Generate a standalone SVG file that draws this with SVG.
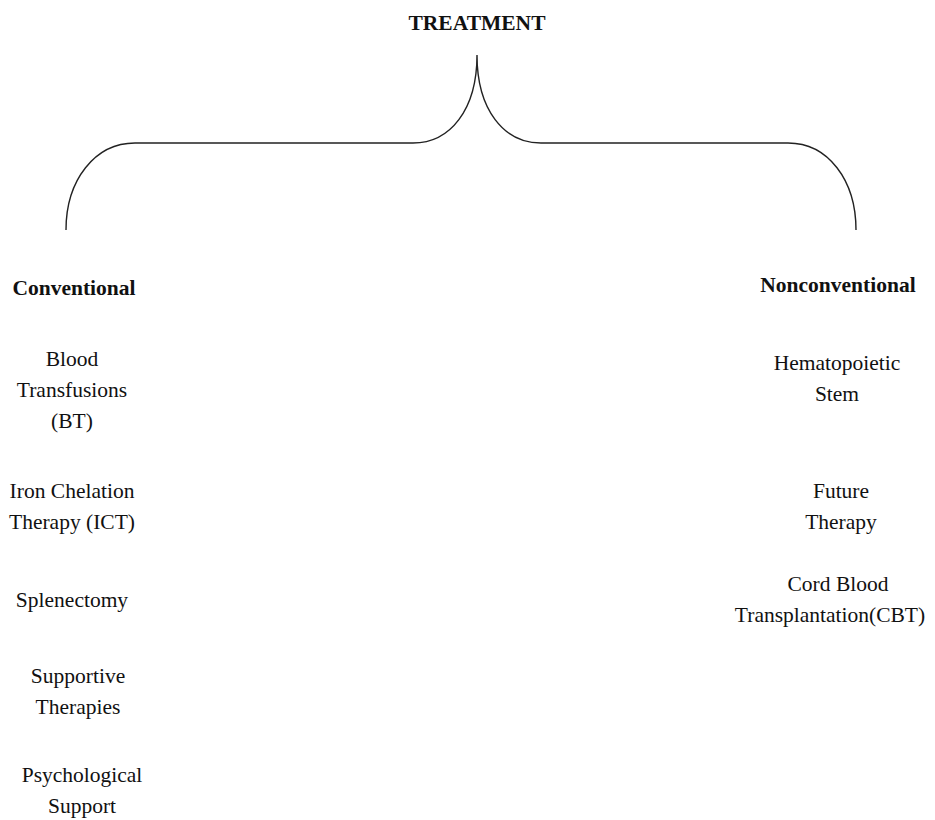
<svg xmlns="http://www.w3.org/2000/svg" width="935" height="820" viewBox="0 0 935 820">
<style>
text{font-family:"Liberation Serif","Times New Roman",serif;font-size:21.5px;fill:#111;text-anchor:middle}
.b{font-weight:bold}
.brace{fill:none;stroke:#222;stroke-width:1.4}
</style>
<rect width="935" height="820" fill="#fff"/>
<g id="title"><text class="b" x="477" y="30" font-size="19.5">TREATMENT</text></g>
<g id="connectors">
<path class="brace" d="M66,230 C66,180 95,143 135,143 L413,143 C450,143 477,110 477,55 C477,110 504,143 541,143 L788,143 C828,143 856,180 856,230"/>
</g>
<g id="conventional"><text class="b" x="74" y="295">Conventional</text></g>
<g id="bt"><text x="72" y="366">Blood</text><text x="72" y="397">Transfusions</text><text x="72" y="428">(BT)</text></g>
<g id="ict"><text x="72" y="498">Iron Chelation</text><text x="72" y="529">Therapy (ICT)</text></g>
<g id="splenectomy"><text x="72" y="607">Splenectomy</text></g>
<g id="supportive"><text x="78" y="683">Supportive</text><text x="78" y="714">Therapies</text></g>
<g id="psychological"><text x="82" y="782">Psychological</text><text x="82" y="813">Support</text></g>
<g id="nonconventional"><text class="b" x="838" y="292">Nonconventional</text></g>
<g id="hsc"><text x="837" y="370">Hematopoietic</text><text x="837" y="401">Stem</text></g>
<g id="future"><text x="841" y="498">Future</text><text x="841" y="529">Therapy</text></g>
<g id="cbt"><text x="838" y="591">Cord Blood</text><text x="830" y="622">Transplantation(CBT)</text></g>
</svg>
